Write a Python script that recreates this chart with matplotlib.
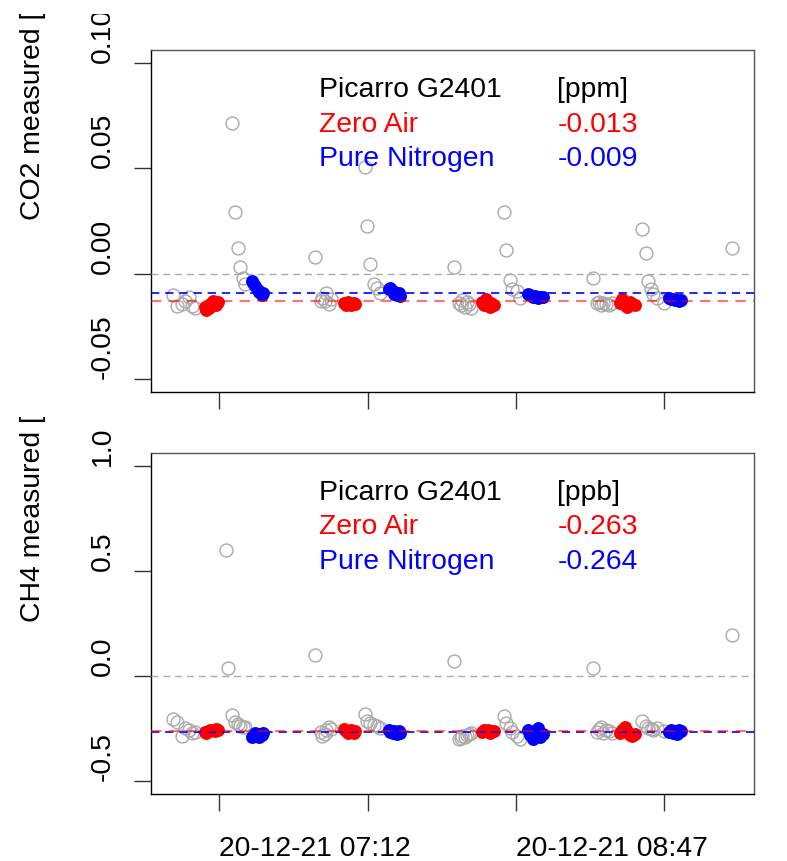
import numpy as np
import matplotlib
matplotlib.use("Agg")
from matplotlib import pyplot as plt
from matplotlib.transforms import Bbox, blended_transform_factory

plt.rcParams['font.family'] = ['Liberation Sans', 'DejaVu Sans']

# measurement times, minutes after midnight on 20-12-21
grey_t = [417.2, 418.4, 420.0, 421.1, 422.1, 423.2, 424.3,
          434.2, 434.8, 436.1, 436.9, 437.9, 438.7, 439.6, 440.3,
          462.6, 464.4, 465.0, 465.7, 466.3, 467.0, 467.6,
          478.6, 479.4, 480.4, 481.5, 482.6, 483.6,
          507.1, 508.7, 509.3, 509.9, 510.6, 511.2, 511.9, 512.5,
          523.2, 524.0, 525.1, 525.9, 527.5, 528.5,
          551.7, 552.9, 553.6, 554.2, 554.9, 555.8, 556.8, 557.7,
          567.6, 568.7, 569.4, 570.3, 571.1, 572.4, 574.5,
          596.2]
red_t = [427.2, 427.8, 428.5, 429.1, 429.8, 430.4, 431.0, 431.4,
         471.8, 472.4, 473.1, 473.7, 474.3, 475.0, 475.6,
         516.0, 516.7, 517.3, 518.0, 518.6, 519.2, 519.9,
         560.3, 561.1, 561.9, 562.7, 563.5, 564.3, 565.1]
blue_t = [442.3, 442.9, 443.5, 444.2, 444.8, 445.5, 445.8,
          486.2, 486.8, 487.5, 488.1, 488.8, 489.4, 490.0,
          530.8, 531.6, 532.4, 533.2, 534.0, 534.8, 535.6,
          576.0, 576.7, 577.3, 578.0, 578.6, 579.3, 579.9]

# CO2 [ppm]  (nan = off scale in the picture)
co2_grey = [-0.0100, -0.0152, -0.0144, -0.0129, -0.0110, -0.0152, -0.0160,
            np.nan, np.nan, 0.0713, 0.0292, 0.0122, 0.0030, -0.0018, -0.0049,
            0.0081, -0.0129, -0.0113, -0.0129, -0.0089, -0.0144, -0.0120,
            0.0506, 0.0224, 0.0046, -0.0049, -0.0065, -0.0089,
            0.0030, -0.0140, -0.0150, -0.0125, -0.0155, -0.0135, -0.0145, -0.0160,
            0.0292, 0.0114, -0.0029, -0.0073, -0.0081, -0.0113,
            -0.0020, -0.0140, -0.0135, -0.0148, -0.0140, -0.0145, -0.0150, -0.0138,
            0.0213, 0.0098, -0.0033, -0.0073, -0.0097, -0.0113, -0.0137,
            0.0122]
co2_red = [-0.0155, -0.0170, -0.0160, -0.0145, -0.0130, -0.0140, -0.0150, -0.0135,
           -0.0140, -0.0148, -0.0135, -0.0142, -0.0150, -0.0138, -0.0145,
           -0.0135, -0.0150, -0.0120, -0.0145, -0.0155, -0.0140, -0.0148,
           -0.0140, -0.0120, -0.0150, -0.0155, -0.0135, -0.0145, -0.0150]
co2_blue = [-0.0035, -0.0045, -0.0060, -0.0075, -0.0085, -0.0100, -0.0090,
            -0.0070, -0.0065, -0.0080, -0.0095, -0.0100, -0.0090, -0.0105,
            -0.0095, -0.0100, -0.0110, -0.0105, -0.0115, -0.0112, -0.0108,
            -0.0115, -0.0120, -0.0118, -0.0125, -0.0122, -0.0128, -0.0124]

# CH4 [ppb]
ch4_grey = [-0.203, -0.219, -0.285, -0.245, -0.255, -0.270, -0.265,
            0.597, 0.039, -0.187, -0.219, -0.228, -0.235, -0.240, -0.242,
            0.098, -0.265, -0.285, -0.275, -0.255, -0.240, -0.250,
            -0.182, -0.215, -0.225, -0.230, -0.235, -0.245,
            0.071, -0.300, -0.295, -0.285, -0.290, -0.280, -0.275, -0.270,
            -0.190, -0.225, -0.245, -0.265, -0.285, -0.300,
            0.040, -0.265, -0.250, -0.240, -0.270, -0.258, -0.262, -0.270,
            -0.211, -0.235, -0.245, -0.250, -0.255, -0.245, -0.260,
            0.193]
ch4_red = [-0.265, -0.270, -0.262, -0.258, -0.255, -0.260, -0.250, -0.255,
           -0.250, -0.260, -0.270, -0.265, -0.255, -0.268, -0.262,
           -0.265, -0.258, -0.262, -0.255, -0.268, -0.260, -0.262,
           -0.270, -0.255, -0.240, -0.260, -0.280, -0.285, -0.275]
ch4_blue = [-0.290, -0.285, -0.270, -0.275, -0.290, -0.280, -0.270,
            -0.255, -0.265, -0.270, -0.260, -0.275, -0.262, -0.268,
            -0.255, -0.280, -0.300, -0.270, -0.245, -0.290, -0.275,
            -0.265, -0.255, -0.270, -0.260, -0.275, -0.258, -0.262]

co2_means = [-0.013, -0.009]
ch4_means = [-0.263, -0.264]

xticks = [432, 479.5, 527, 574.5]
xlabels = ["20-12-21 07:12", "", "20-12-21 08:47", ""]

W, H = 787, 861
FS = 20.4
MS = 9.3
dash = (0, (5, 3.5))

# each panel's margin text is clipped to its own figure region (as in R)
top_clip = Bbox([[0, H - 417], [W, H - 13.5]])
bot_clip = Bbox([[0, 0], [W, H - 417]])


def panel(ax, grey, red, blue, means, ylim, yticks, ylabels, unit, clip):
    ax.plot(grey_t, grey, 'o', mfc='none', mec='#aaaaaa', ms=MS, mew=1.0, zorder=2)
    ax.plot(red_t, red, 'o', color='red', ms=MS, mew=0, zorder=3)
    ax.plot(blue_t, blue, 'o', color='blue', ms=MS, mew=0, zorder=3)
    ax.axhline(0, color='#aaaaaa', lw=1.0, ls=dash, zorder=4)
    ax.axhline(means[1], color='blue', lw=1.2, ls=dash, zorder=4)
    ax.axhline(means[0], color='red', alpha=0.55, lw=1.5, ls=dash, zorder=4)

    # R style 4% extension
    t0, t1 = min(grey_t), max(grey_t)
    ax.set_xlim(t0 - 0.04 * (t1 - t0), t1 + 0.04 * (t1 - t0))
    p = 0.04 * (ylim[1] - ylim[0])
    ax.set_ylim(ylim[0] - p, ylim[1] + p)

    # y tick labels start at the tick and read upwards
    ax.set_yticks(yticks, [])
    tr = blended_transform_factory(fig.transFigure, ax.transData)
    for v, s in zip(yticks, ylabels):
        fig.text(116 / W, v, s, transform=tr, rotation=90, ha='right', va='bottom',
                 fontsize=FS, clip_box=clip, clip_on=True)

    ax.set_xticks(xticks)
    ax.tick_params(length=12.5, width=1.0, color='#333333')
    for s in ['top', 'right']:
        ax.spines[s].set_color('#555555')
    for s in ax.spines.values():
        s.set_linewidth(1.0)

    ax.text(0.278, 0.8635, "Picarro G2401", transform=ax.transAxes, fontsize=FS, va='baseline')
    ax.text(0.674, 0.8635, unit, transform=ax.transAxes, fontsize=FS, va='baseline')
    ax.text(0.278, 0.761, "Zero Air", color='red', transform=ax.transAxes, fontsize=FS, va='baseline')
    ax.text(0.674, 0.761, f"{means[0]:.3f}", color='red', transform=ax.transAxes, fontsize=FS, va='baseline')
    ax.text(0.278, 0.660, "Pure Nitrogen", color='blue', transform=ax.transAxes, fontsize=FS, va='baseline')
    ax.text(0.674, 0.660, f"{means[1]:.3f}", color='blue', transform=ax.transAxes, fontsize=FS, va='baseline')


fig = plt.figure(figsize=(W / 100, H / 100), dpi=100)
ax1 = fig.add_axes([151 / W, 1 - 392 / H, 603 / W, 342 / H])
ax2 = fig.add_axes([151 / W, 1 - 794 / H, 603 / W, 341 / H])

panel(ax1, co2_grey, co2_red, co2_blue, co2_means, (-0.05, 0.10),
      [-0.05, 0.0, 0.05, 0.10], ["-0.05", "0.00", "0.05", "0.10"], "[ppm]", top_clip)
panel(ax2, ch4_grey, ch4_red, ch4_blue, ch4_means, (-0.5, 1.0),
      [-0.5, 0.0, 0.5, 1.0], ["-0.5", "0.0", "0.5", "1.0"], "[ppb]", bot_clip)

ax1.tick_params(axis='x', labelbottom=False)
ax2.set_xticklabels(xlabels, ha='left', fontsize=FS)
ax2.tick_params(axis='x', pad=18.0)

fig.text(33 / W, 1 - 220 / H, "CO2 measured [ppm]", rotation=90, ha='center', va='bottom',
         fontsize=FS, clip_box=top_clip, clip_on=True)
fig.text(33 / W, 1 - 622 / H, "CH4 measured [ppb]", rotation=90, ha='center', va='bottom',
         fontsize=FS, clip_box=bot_clip, clip_on=True)

fig.savefig("out.png", dpi=100)
